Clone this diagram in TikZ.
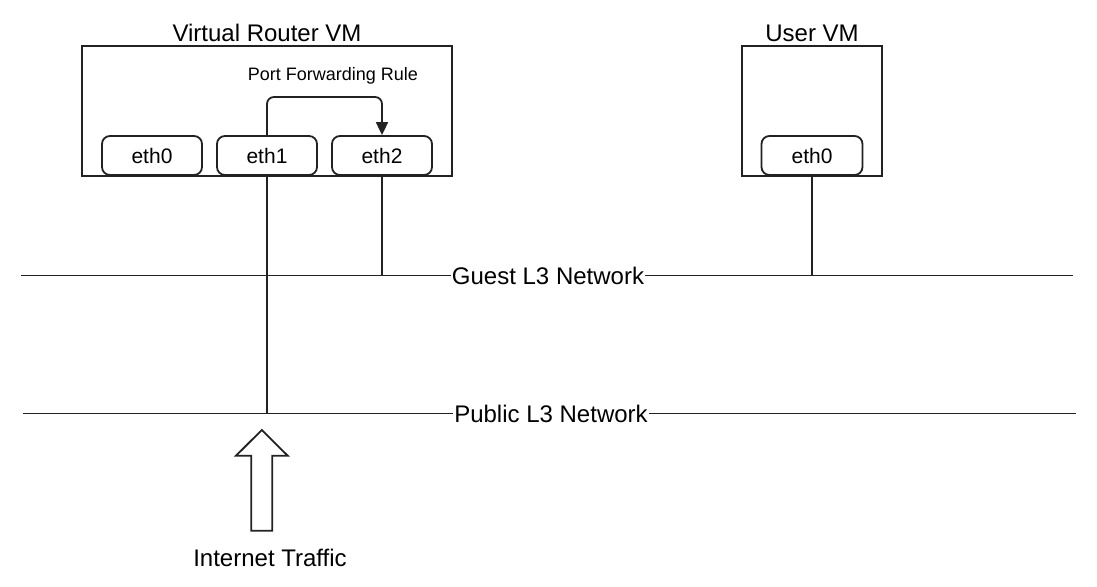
\documentclass[tikz,border=0pt]{standalone}
\usepackage{fontspec}
\setmainfont{Liberation Sans}
\usetikzlibrary{arrows.meta}
\definecolor{ln}{HTML}{222222}
\begin{document}
\begin{tikzpicture}[x=1pt,y=-1pt,
  every node/.style={text=black},
  vmbox/.style={draw=ln,line width=1.8pt,rectangle,inner sep=0pt},
  ethbox/.style={draw=ln,line width=1.8pt,rectangle,rounded corners=8pt,minimum width=100pt,minimum height=39pt,inner sep=0pt,font=\fontsize{21}{24}\selectfont,fill=white},
  title/.style={font=\fontsize{24}{28}\selectfont,inner sep=0pt},
  netlabel/.style={font=\fontsize{24}{28}\selectfont,inner sep=1pt},
  wire/.style={draw=ln,line width=1.8pt}
]
\useasboundingbox (0,0) rectangle (1097,586);

% Virtual Router VM
\node[vmbox,minimum width=370pt,minimum height=130pt] (router) at (267,111) {};
\node[title] (routerlbl) at (267,33) {Virtual Router VM};
\node[ethbox] (reth0) at (152,155.5) {eth0};
\node[ethbox] (reth1) at (267,155.5) {eth1};
\node[ethbox] (reth2) at (382,155.5) {eth2};

% Port forwarding rule
\coordinate (pfc) at (382,97);
\draw[wire,rounded corners=7pt,-{Triangle[length=13pt,width=12pt]}] (reth1.north) |- (pfc) -- (reth2.north);
\node[font=\fontsize{18}{20}\selectfont,inner sep=0pt] (pflbl) at (333,76) {Port Forwarding Rule};

% User VM
\node[vmbox,minimum width=140pt,minimum height=130pt] (user) at (812,111) {};
\node[title] (userlbl) at (812,33) {User VM};
\node[ethbox,minimum width=101pt] (ueth0) at (812,155.5) {eth0};

% Guest L3 Network
\coordinate (gL) at (21.3,275.5);
\coordinate (gR) at (1072.7,275.5);
\node[netlabel] (guest) at (548,275.5) {Guest L3 Network};
\draw[wire] (gL) -- (guest.west);
\draw[wire] (guest.east) -- (gR);

% Public L3 Network
\coordinate (pL) at (23.3,413.5);
\coordinate (pR) at (1076.3,413.5);
\node[netlabel] (public) at (551,414) {Public L3 Network};
\draw[wire] (pL) -- (public.west |- pL);
\draw[wire] (public.east |- pR) -- (pR);

% Connections
\coordinate (g2) at (382,275.5);
\coordinate (g3) at (812,275.5);
\coordinate (p1) at (267,413.5);
\draw[wire] (reth2.south) -- (g2);
\draw[wire] (ueth0.south) -- (g3);
\draw[wire] (reth1.south) -- (p1);

% Internet traffic arrow
\draw[draw=ln,line width=1.8pt,fill=white,line join=miter]
  (261.8,430) -- (287.7,455.7) -- (272.3,455.7) -- (272.3,530.7)
  -- (251.3,530.7) -- (251.3,455.7) -- (236,455.7) -- cycle;
\node[title] (inet) at (270,558) {Internet Traffic};
\end{tikzpicture}
\end{document}
